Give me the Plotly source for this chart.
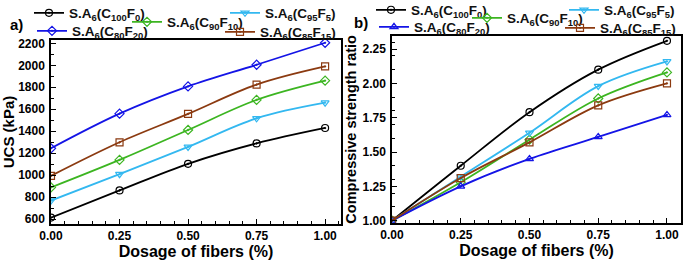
import plotly.graph_objects as go

dosage = [0.0, 0.25, 0.50, 0.75, 1.00]

series_names = [
    "S.A<sub>6</sub>(C<sub>100</sub>F<sub>0</sub>)",
    "S.A<sub>6</sub>(C<sub>90</sub>F<sub>10</sub>)",
    "S.A<sub>6</sub>(C<sub>95</sub>F<sub>5</sub>)",
    "S.A<sub>6</sub>(C<sub>80</sub>F<sub>20</sub>)",
    "S.A<sub>6</sub>(C<sub>85</sub>F<sub>15</sub>)",
]

# Panel a) UCS (kPa)
ucs_c100f0 = [615, 862, 1104, 1290, 1430]
ucs_c90f10 = [890, 1140, 1412, 1685, 1860]
ucs_c95f5 = [770, 1010, 1258, 1518, 1660]
ucs_c80f20 = [1245, 1560, 1808, 2005, 2205]
ucs_c85f15 = [995, 1300, 1558, 1825, 1990]

# Panel b) Compressive strength ratio
csr_c100f0 = [1.00, 1.40, 1.79, 2.10, 2.31]
csr_c90f10 = [1.00, 1.28, 1.59, 1.89, 2.08]
csr_c95f5 = [1.00, 1.32, 1.64, 1.98, 2.16]
csr_c80f20 = [1.00, 1.25, 1.45, 1.61, 1.77]
csr_c85f15 = [1.00, 1.31, 1.57, 1.84, 2.00]

colors = ["#000000", "#3cb521", "#33b8f0", "#1414e6", "#8b3a10"]
symbols_a = ["circle-open-dot", "diamond-open-dot", "triangle-down-open-dot",
             "diamond-open-dot", "square-open-dot"]
symbols_b = ["circle-open-dot", "diamond-open-dot", "triangle-down-open-dot",
             "triangle-up-open-dot", "square-open-dot"]

ucs = [ucs_c100f0, ucs_c90f10, ucs_c95f5, ucs_c80f20, ucs_c85f15]
csr = [csr_c100f0, csr_c90f10, csr_c95f5, csr_c80f20, csr_c85f15]

W, H = 685, 261
FONT = "Liberation Sans, Arial, sans-serif"

fig = go.Figure()

for i in range(5):
    fig.add_trace(go.Scatter(
        x=dosage, y=ucs[i], name=series_names[i], mode="lines+markers",
        line=dict(color=colors[i], width=1.8, shape="spline"),
        marker=dict(symbol=symbols_a[i], size=7, color=colors[i],
                    line=dict(color=colors[i], width=1.2)),
        xaxis="x", yaxis="y", legend="legend" if i == 0 else f"legend{i+1}",
    ))

for i in range(5):
    fig.add_trace(go.Scatter(
        x=dosage, y=csr[i], name=series_names[i], mode="lines+markers",
        line=dict(color=colors[i], width=1.8, shape="spline"),
        marker=dict(symbol=symbols_b[i], size=7, color=colors[i],
                    line=dict(color=colors[i], width=1.2)),
        xaxis="x2", yaxis="y2", legend=f"legend{i+6}",
    ))

# legend text start (px) and row centre (px)
leg_pos = [
    (72, 13), (170, 22), (268, 13), (75, 31), (263, 32),
    (414, 10), (510, 18), (607, 10), (417, 27), (603, 28),
]

layout_legends = {}
for k, (tx, ty) in enumerate(leg_pos):
    key = "legend" if k == 0 else f"legend{k+1}"
    layout_legends[key] = dict(
        x=(tx - 43) / W, y=(H - ty) / H, xanchor="left", yanchor="middle",
        bgcolor="rgba(0,0,0,0)", borderwidth=0, itemwidth=30,
        font=dict(family=FONT, size=13.5, color="#111", weight="bold"),
        orientation="h", tracegroupgap=0,
    )

axis_common = dict(
    showline=True, linecolor="black", linewidth=1.5, mirror=True,
    ticks="inside", ticklen=5, tickwidth=1.2, tickcolor="black",
    showgrid=False, zeroline=False, automargin=False,
    tickfont=dict(family=FONT, size=12, color="black", weight="bold"),
    minor=dict(ticks="inside", ticklen=3, tickwidth=1, tickcolor="black"),
)

xtitle_font = dict(family=FONT, size=16, color="black", weight="bold")

fig.update_layout(
    width=W, height=H,
    margin=dict(l=0, r=0, t=0, b=0, autoexpand=False),
    plot_bgcolor="white", paper_bgcolor="white",
    showlegend=True,
    font=dict(family=FONT, color="black"),
    xaxis=dict(domain=[51 / W, 341 / W], range=[0, 1.058],
               tickvals=[0, 0.25, 0.5, 0.75, 1.0],
               ticktext=["0.00", "0.25", "0.50", "0.75", "1.00"],
               title=dict(text="Dosage of fibers (%)", standoff=2, font=xtitle_font),
               **axis_common, anchor="y"),
    yaxis=dict(domain=[(H - 224) / H, (H - 40) / H], range=[557, 2230],
               tickvals=[600, 800, 1000, 1200, 1400, 1600, 1800, 2000, 2200],
               title=dict(text="UCS (kPa)", standoff=2,
                          font=dict(family=FONT, size=15, color="black", weight="bold")),
               ticklabelstandoff=2,
               **axis_common, anchor="x"),
    xaxis2=dict(domain=[392 / W, 681 / W], range=[0, 1.051],
                tickvals=[0, 0.25, 0.5, 0.75, 1.0],
                ticktext=["0.00", "0.25", "0.50", "0.75", "1.00"],
                title=dict(text="Dosage of fibers (%)", standoff=2, font=xtitle_font),
                **axis_common, anchor="y2"),
    yaxis2=dict(domain=[(H - 222.7) / H, (H - 36) / H], range=[0.985, 2.345],
                tickvals=[1.0, 1.25, 1.5, 1.75, 2.0, 2.25],
                ticktext=["1.00", "1.25", "1.50", "1.75", "2.00", "2.25"],
                title=dict(text="Compressive strength ratio", standoff=2,
                           font=dict(family=FONT, size=14.5, color="black", weight="bold")),
                ticklabelstandoff=2,
                **axis_common, anchor="x2"),
    **layout_legends,
)

fig.add_annotation(x=8 / W, y=(H - 14) / H, xref="paper", yref="paper",
                   text="a)", showarrow=False, xanchor="left",
                   font=dict(family=FONT, size=15, color="black", weight="bold"))
fig.add_annotation(x=352 / W, y=(H - 12) / H, xref="paper", yref="paper",
                   text="b)", showarrow=False, xanchor="left",
                   font=dict(family=FONT, size=15, color="black", weight="bold"))

fig.write_html("out.html", config={"displayModeBar": False},
               post_script="document.body.style.margin='0';document.body.style.padding='0';")
